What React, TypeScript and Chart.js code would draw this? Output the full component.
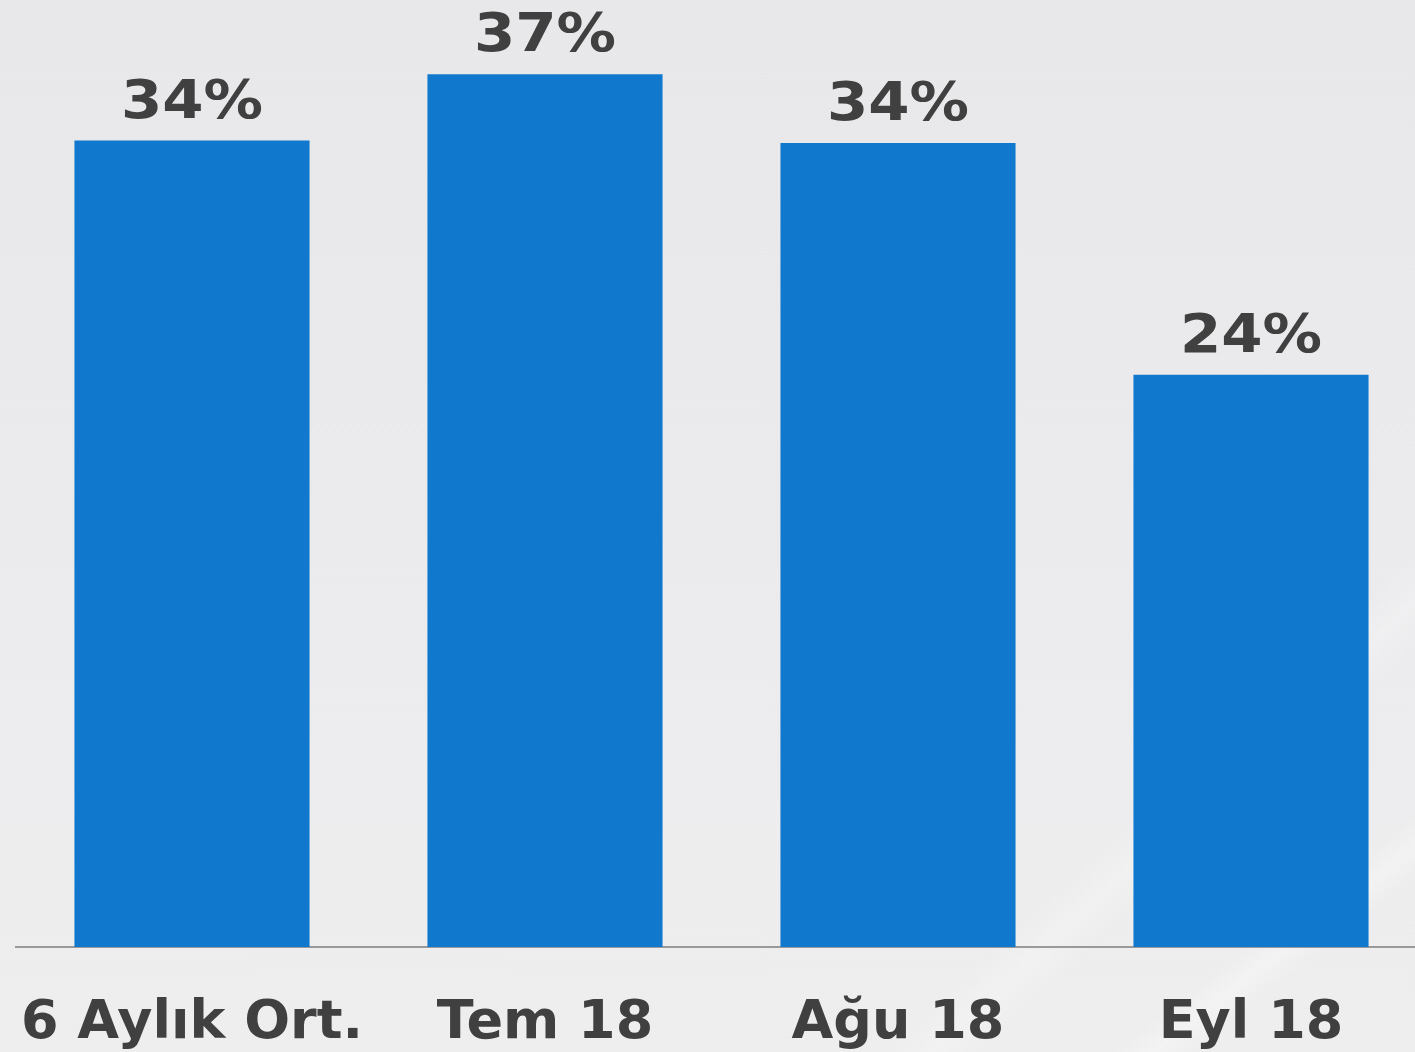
import React, { useEffect, useRef } from "react";
import { Chart, registerables } from "chart.js";

Chart.register(...registerables);

const categories = ["6 Aylık Ort.", "Tem 18", "Ağu 18", "Eyl 18"];
const values = [34.1, 36.9, 34.0, 24.2];
const valueLabels = ["34%", "37%", "34%", "24%"];

const TEXT = "#404040";
const BAR = "#1079cd";

const labelPlugin = {
  id: "valueLabels",
  afterDatasetsDraw(chart: any) {
    const ctx = chart.ctx;
    const meta = chart.getDatasetMeta(0);
    meta.data.forEach((bar: any, i: number) => {
      ctx.save();
      ctx.font = "bold 54px 'DejaVu Sans'";
      ctx.fillStyle = TEXT;
      ctx.textAlign = "center";
      ctx.textBaseline = "alphabetic";
      ctx.translate(bar.x, bar.y - 23);
      ctx.scale(1.1, 1);
      ctx.fillText(valueLabels[i], 0, 0);
      ctx.restore();
    });
  },
};

export default function App() {
  const ref = useRef<HTMLCanvasElement | null>(null);
  useEffect(() => {
    if (!ref.current) return;
    const chart = new Chart(ref.current, {
      type: "bar",
      data: {
        labels: categories,
        datasets: [
          {
            data: values,
            backgroundColor: BAR,
            borderWidth: 0,
            categoryPercentage: 1,
            barPercentage: 0.666,
          },
        ],
      },
      options: {
        animation: false,
        responsive: false,
        maintainAspectRatio: false,
        layout: { padding: { left: 15.5, right: 12.5, top: 1, bottom: 0 } },
        plugins: {
          legend: { display: false },
          tooltip: { enabled: false },
        },
        scales: {
          x: {
            grid: { display: false, drawTicks: false },
            border: { display: true, color: "#9a9a9a", width: 2 },
            ticks: {
              color: TEXT,
              font: { family: "'DejaVu Sans'", size: 54, weight: "bold" },
              padding: 45,
              maxRotation: 0,
              autoSkip: false,
            },
            afterFit: (scale: any) => {
              scale.height = 105;
              scale.paddingLeft = 0;
              scale.paddingRight = 0;
            },
          },
          y: {
            display: false,
            min: 0,
            max: 40,
          },
        },
      },
      plugins: [labelPlugin],
    });
    return () => chart.destroy();
  }, []);

  return (
    <div
      style={{
        position: "fixed",
        left: 0,
        top: 0,
        width: 1415,
        height: 1052,
        overflow: "hidden",
        background:
          "linear-gradient(137deg, rgba(255,255,255,0) 79%, rgba(255,255,255,0.22) 81%, rgba(255,255,255,0) 83%), linear-gradient(142deg, rgba(255,255,255,0) 89%, rgba(255,255,255,0.3) 90.5%, rgba(255,255,255,0) 92%), linear-gradient(180deg, #e8e8ea 0%, #ebebed 50%, #efeeef 100%)",
      }}
    >
      <canvas ref={ref} width={1440} height={1052} style={{ display: "block" }} />
    </div>
  );
}
